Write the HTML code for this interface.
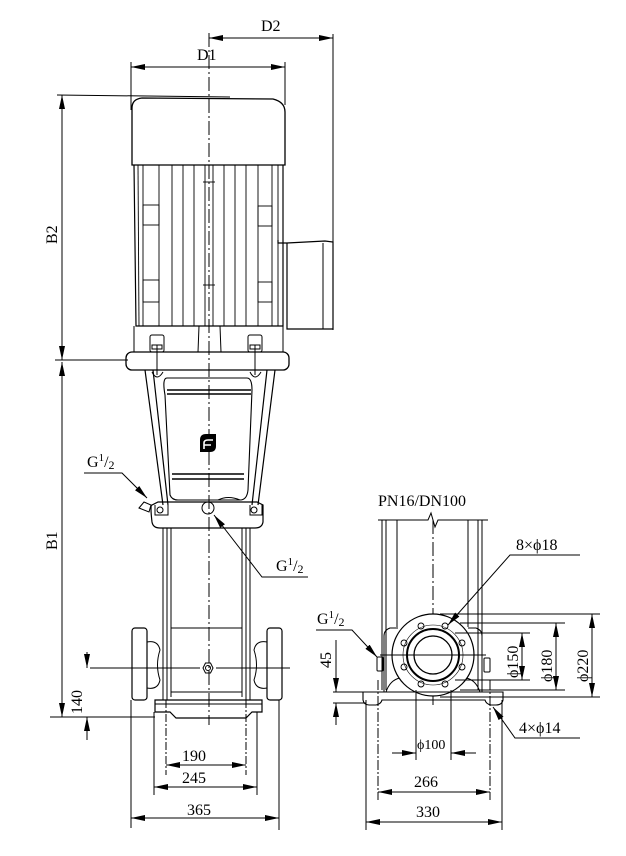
<!DOCTYPE html>
<html><head><meta charset="utf-8"><style>
html,body{margin:0;padding:0;background:#fff}
svg{display:block}
text{font-family:"Liberation Serif",serif;fill:#000}
</style></head><body>
<svg width="626" height="856" viewBox="0 0 626 856" xmlns="http://www.w3.org/2000/svg">
<defs>
<marker id="a" viewBox="0 0 14 6" refX="14" refY="3" markerWidth="14" markerHeight="6" orient="auto-start-reverse" markerUnits="userSpaceOnUse"><path d="M0,0L14,3L0,6z" fill="#000"/></marker>
</defs>
<g stroke="#000" fill="none" stroke-width="1">
<line x1="209" y1="33" x2="209" y2="725" stroke-dasharray="14,3,2,3"/>
<line x1="209" y1="38" x2="333" y2="38" marker-start="url(#a)" marker-end="url(#a)"/>
<line x1="333" y1="34" x2="333" y2="330"/>
<line x1="131" y1="67" x2="285" y2="67" marker-start="url(#a)" marker-end="url(#a)"/>
<line x1="131" y1="62" x2="131" y2="110"/>
<line x1="285" y1="62" x2="285" y2="105"/>
<line x1="57" y1="95" x2="230" y2="97"/>
<line x1="62" y1="95" x2="62" y2="360" marker-start="url(#a)" marker-end="url(#a)"/>
<line x1="55" y1="360" x2="128" y2="360"/>
<line x1="62" y1="362" x2="62" y2="717" marker-start="url(#a)" marker-end="url(#a)"/>
<line x1="50" y1="717" x2="155" y2="717"/>
<path d="M132,165 L132,108 Q132,99 142,98 L273,99 Q285,102 285,112 L285,165 Z" stroke-width="1.3"/>
<path d="M134,165 L136,326 L283,326 L283,165" stroke-width="1.2"/>
<g stroke-width="0.9">
<line x1="138" y1="165" x2="139" y2="326"/><line x1="143" y1="165" x2="143" y2="326"/>
<line x1="159" y1="165" x2="159" y2="326"/><line x1="172" y1="165" x2="172" y2="326"/>
<line x1="183" y1="165" x2="183" y2="326"/><line x1="194" y1="165" x2="194" y2="326"/>
<line x1="205" y1="165" x2="205" y2="326"/><line x1="213" y1="165" x2="213" y2="326"/>
<line x1="224" y1="165" x2="224" y2="326"/><line x1="235" y1="165" x2="235" y2="326"/>
<line x1="246" y1="165" x2="246" y2="326"/><line x1="258" y1="165" x2="258" y2="326"/>
<line x1="272" y1="165" x2="272" y2="326"/><line x1="278" y1="165" x2="278" y2="326"/>
<rect x="143" y="205" width="16" height="20"/><rect x="143" y="280" width="16" height="22"/>
<rect x="258" y="206" width="14" height="20"/><rect x="258" y="282" width="14" height="20"/>
<line x1="203" y1="182" x2="215" y2="182"/><line x1="203" y1="285" x2="215" y2="285"/>
</g>
<path d="M278,240 L278,243 L287,243 L287,329 L333,329 L333,242 L325,241 L287,243" stroke-width="1.2"/>
<line x1="323" y1="243" x2="323" y2="329"/>
<path d="M134,326 L134,352 M283,326 L283,352 M199,326 L198,352 M220,326 L221,352"/>
<rect x="150" y="335" width="14" height="17" rx="2"/><rect x="248" y="335" width="14" height="17" rx="2"/>
<rect x="152" y="345" width="10" height="4"/><rect x="250" y="345" width="10" height="4"/>
<line x1="157" y1="345" x2="157" y2="375"/><line x1="255" y1="345" x2="255" y2="375"/>
<rect x="126" y="352" width="163" height="18" rx="6" stroke-width="1.3"/>
<path d="M145,370 L163,505 M153,370 L168,505 M275,370 L258,505 M267,370 L252,505" stroke-width="1.2"/>
<path d="M152,372 Q157,382 163,372 M250,372 Q255,382 261,372"/>
<path d="M167,378 Q162,378 165,395 L170,495 Q172,500 178,500 L240,500 Q247,500 248,490 L252,390 Q252,378 247,378 Z" stroke-width="1.1"/>
<line x1="167" y1="390" x2="251" y2="390" stroke-width="1.5"/><line x1="167" y1="394" x2="251" y2="394" stroke-width="1.5"/>
<line x1="172" y1="474" x2="244" y2="474" stroke-width="1.5"/><line x1="172" y1="479" x2="244" y2="479" stroke-width="1.5"/>
<path d="M218,500 Q228,495 240,500"/>
<path d="M200,440 Q200,434 206,434 L216,434 L216,446 Q216,452 210,452 L200,452 Z" fill="#000" stroke="none"/>
<path d="M204,449 L204,443 Q204,440 208,440 L213,440 M204,445 L211,445" stroke="#fff" stroke-width="1.6"/>
<path d="M152,505 Q150,505 152,522 Q153,528 160,528 L255,528 Q262,528 263,522 L263,505 L257,502 L158,502 Z" stroke-width="1.2"/>
<path d="M155,505 L155,515 L168,515 L168,505 M250,505 L250,515 L262,515 L262,505"/>
<circle cx="160" cy="510" r="3"/><circle cx="254" cy="510" r="3"/>
<path d="M139,508 L144,502 L151,505 L149,512 Z"/>
<circle cx="208" cy="508" r="6"/>
<path d="M163,528 L163,700 M167,528 L167,700 M171,528 L171,697 M250,528 L250,700 M246,528 L246,700 M242,528 L242,697" stroke-width="1"/>
<line x1="171" y1="628" x2="242" y2="628"/>
<line x1="171" y1="692" x2="242" y2="692"/>
<rect x="132" y="628" width="15" height="72" rx="3" stroke-width="1.2"/>
<rect x="267" y="628" width="15" height="72" rx="3" stroke-width="1.2"/>
<path d="M147,642 Q158,640 160,650 Q155,665 160,680 Q158,690 147,688"/>
<path d="M267,642 Q256,640 254,650 Q259,665 254,680 Q256,690 267,688"/>
<line x1="90" y1="668" x2="200" y2="668"/><line x1="216" y1="668" x2="290" y2="668"/>
<polygon points="203,668 205.5,663 210.5,663 213,668 210.5,673 205.5,673" /><circle cx="208" cy="668" r="2.5"/>
<path d="M155,700 L262,700 L262,712 L252,712 L246,718 L176,718 L170,712 L155,712 Z" stroke-width="1.2"/>
<line x1="155" y1="704" x2="262" y2="704"/>
<line x1="87" y1="652" x2="87" y2="668" marker-end="url(#a)"/>
<line x1="87" y1="740" x2="87" y2="717" marker-end="url(#a)"/>
<line x1="166" y1="700" x2="166" y2="775" stroke-dasharray="8,2,2,2"/><line x1="246" y1="700" x2="246" y2="775" stroke-dasharray="8,2,2,2"/>
<line x1="154" y1="712" x2="154" y2="795"/><line x1="257" y1="712" x2="257" y2="795"/>
<line x1="131" y1="700" x2="131" y2="828"/><line x1="279" y1="700" x2="279" y2="830"/>
<line x1="166" y1="765" x2="246" y2="765" marker-start="url(#a)" marker-end="url(#a)"/>
<line x1="154" y1="787" x2="257" y2="787" marker-start="url(#a)" marker-end="url(#a)"/>
<line x1="131" y1="818" x2="279" y2="818" marker-start="url(#a)" marker-end="url(#a)"/>
<polyline points="84,473 122,473 147,498" marker-end="url(#a)"/>
<polyline points="308,577 262,577 214,515" marker-end="url(#a)"/>

<!-- RIGHT VIEW -->
<line x1="433" y1="520" x2="433" y2="705" stroke-dasharray="14,3,2,3"/>
<path d="M378,520 L428,520 L431,513 L435,527 L438,520 L488,520"/>
<path d="M382,520 L382,690 M386,520 L386,690 M397,520 L397,627 M468,520 L468,627 M478,520 L478,690 M482,520 L482,690"/>
<path d="M384,692 L384,636 Q384,630 390,628 L398,628 M482,692 L482,636 Q482,630 476,628 L468,628"/>
<path d="M386,692 Q390,680 400,678 M480,692 Q476,680 466,678"/>
<rect x="377" y="657" width="6" height="14" rx="1"/><rect x="484" y="658" width="6" height="14" rx="1"/>
<circle cx="433" cy="655" r="41" stroke-width="1.2" fill="#fff"/>
<circle cx="433" cy="655" r="26" stroke-width="2"/>
<circle cx="433" cy="655" r="19" stroke-width="1.3"/>
<circle cx="433" cy="655" r="30" stroke-width="0.6"/>
<g stroke-width="0.9">
<circle cx="421" cy="626" r="3"/><circle cx="445" cy="626" r="3"/><circle cx="462" cy="643" r="3"/><circle cx="462" cy="667" r="3"/>
<circle cx="445" cy="684" r="3"/><circle cx="421" cy="684" r="3"/><circle cx="404" cy="667" r="3"/><circle cx="404" cy="643" r="3"/>
</g>
<line x1="380" y1="655" x2="486" y2="655"/>
<path d="M363,692 L503,692 L503,700 Q502,705 496,705 L491,705 Q486,704 485,700 L382,700 Q381,704 376,705 L369,705 Q364,705 363,700 Z" stroke-width="1.1"/>
<line x1="378" y1="680" x2="378" y2="800" stroke-dasharray="10,2,2,2"/>
<line x1="490" y1="680" x2="490" y2="800" stroke-dasharray="10,2,2,2"/>
<line x1="366" y1="700" x2="366" y2="830"/><line x1="502" y1="700" x2="502" y2="830"/>
<line x1="416" y1="690" x2="416" y2="760"/><line x1="451" y1="690" x2="451" y2="760"/>
<line x1="392" y1="753" x2="416" y2="753" marker-end="url(#a)"/>
<line x1="476" y1="753" x2="451" y2="753" marker-end="url(#a)"/>
<line x1="378" y1="792" x2="490" y2="792" marker-start="url(#a)" marker-end="url(#a)"/>
<line x1="366" y1="822" x2="502" y2="822" marker-start="url(#a)" marker-end="url(#a)"/>
<line x1="333" y1="692" x2="366" y2="692"/><line x1="333" y1="703" x2="366" y2="703"/>
<line x1="336" y1="640" x2="336" y2="692" marker-end="url(#a)"/>
<line x1="336" y1="725" x2="336" y2="703" marker-end="url(#a)"/>
<line x1="455" y1="633" x2="530" y2="633"/><line x1="455" y1="680" x2="530" y2="680"/>
<line x1="460" y1="623" x2="565" y2="623"/><line x1="460" y1="690" x2="565" y2="690"/>
<line x1="440" y1="614" x2="600" y2="614"/><line x1="440" y1="697" x2="600" y2="697"/>
<line x1="522" y1="633" x2="522" y2="680" marker-start="url(#a)" marker-end="url(#a)"/>
<line x1="556" y1="623" x2="556" y2="690" marker-start="url(#a)" marker-end="url(#a)"/>
<line x1="592" y1="614" x2="592" y2="697" marker-start="url(#a)" marker-end="url(#a)"/>
<polyline points="580,555 510,555 448,625" marker-end="url(#a)"/>
<polyline points="580,738 515,738 493,707" marker-end="url(#a)"/>
<polyline points="316,630 352,630 377,657" marker-end="url(#a)"/>
</g>
<g font-size="16">
<text x="261" y="31">D2</text>
<text x="197" y="60">D1</text>
<text transform="translate(57,244) rotate(-90)">B2</text>
<text transform="translate(57,550) rotate(-90)">B1</text>
<text transform="translate(82,714) rotate(-90)">140</text>
<text x="182" y="761">190</text>
<text x="182" y="783">245</text>
<text x="187" y="815">365</text>
<text x="87" y="467">G<tspan font-size="11" dy="-6">1</tspan><tspan dy="6">/</tspan><tspan font-size="12" dy="2">2</tspan></text>
<text x="276" y="571">G<tspan font-size="11" dy="-6">1</tspan><tspan dy="6">/</tspan><tspan font-size="12" dy="2">2</tspan></text>
<text x="317" y="624">G<tspan font-size="11" dy="-6">1</tspan><tspan dy="6">/</tspan><tspan font-size="12" dy="2">2</tspan></text>
<text x="378" y="506">PN16/DN100</text>
<text x="516" y="550">8×ϕ18</text>
<text x="519" y="733">4×ϕ14</text>
<text transform="translate(331,668) rotate(-90)">45</text>
<text transform="translate(518,678) rotate(-90)">ϕ150</text>
<text transform="translate(552,682) rotate(-90)">ϕ180</text>
<text transform="translate(588,682) rotate(-90)">ϕ220</text>
<text x="417" y="749" font-size="14">ϕ100</text>
<text x="414" y="787">266</text>
<text x="416" y="817">330</text>
</g>
</svg>
</body></html>
